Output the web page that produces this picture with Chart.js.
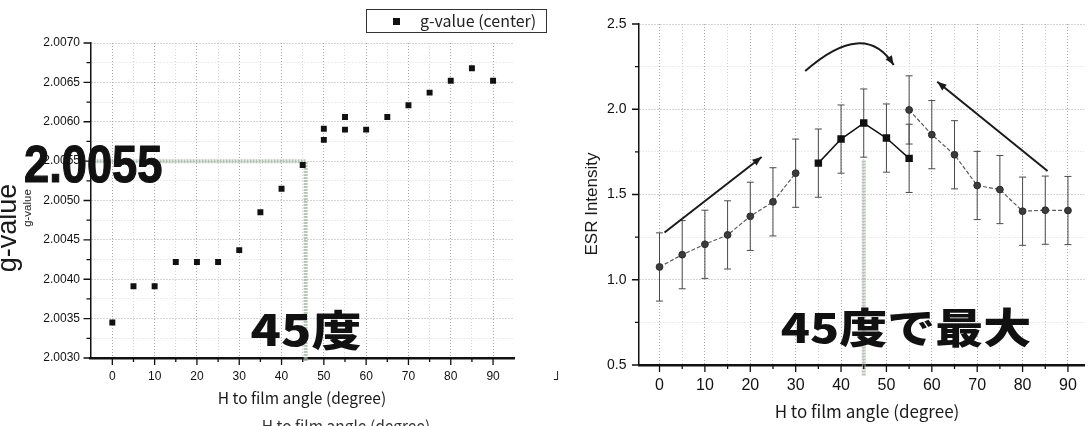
<!DOCTYPE html>
<html lang="ja">
<head>
<meta charset="utf-8">
<title>g-value / ESR Intensity</title>
<script src="https://cdn.jsdelivr.net/npm/chart.js@4.4.1/dist/chart.umd.min.js"></script>
<style>
  body { margin: 0; background: #fff; }
  #page { position: relative; width: 1090px; height: 426px; overflow: hidden; }
  canvas { position: absolute; top: 0; }
  #ChartG { left: 0; }
  #ChartE { left: 545px; }
  .lbl { position: absolute; white-space: nowrap; color: #1a1a1a; line-height: 1; transform: translate(-50%, -50%); }
  .rot { transform: translate(-50%, -50%) rotate(-90deg); }
  .jp { font-family: "Noto Sans CJK JP", sans-serif; }
  .big { font-weight: 900; color: #111; }
  #legendG { position: absolute; left: 366px; top: 9px; width: 181px; height: 24px; box-sizing: border-box;
             border: 1.5px solid #333; background: #fff; }
  #legendG i { position: absolute; left: 26px; top: 7.5px; width: 7px; height: 7px; background: #111; }
  #legendG span { position: absolute; left: 53px; top: -2px; font: 16px "Noto Sans CJK JP", sans-serif; color: #222; }
</style>
</head>
<body>
<div id="page">
  <canvas id="ChartG" width="545" height="426"></canvas>
  <canvas id="ChartE" width="545" height="426"></canvas>

  <div id="legendG"><i></i><span>g-value (center)</span></div>

  <div class="lbl rot" style="left:7px;top:228px;font-size:27px;font-family:'Liberation Sans',Arial">g-value</div>
  <div class="lbl rot" style="left:28px;top:208px;font-size:11.5px;font-family:'Liberation Sans',Arial">g-value</div>
  <div class="lbl jp" style="left:302px;top:398px;font-size:15.5px">H to film angle (degree)</div>
  <div class="lbl jp" style="left:346px;top:426px;font-size:15.5px;color:#333">H to film angle (degree)</div>

  <div class="lbl rot" style="left:591px;top:204px;font-size:17px;font-family:'Liberation Sans',Arial">ESR Intensity</div>
  <div class="lbl jp" style="left:867px;top:410px;font-size:17px">H to film angle (degree)</div>
  <div class="lbl jp" style="left:560px;top:372px;font-size:13px">」</div>

  <div style="position:absolute;left:24px;top:138px;font:bold 52px/52px 'Liberation Sans',Arial;color:#111;-webkit-text-stroke:1.2px #111;transform:scaleX(0.87);transform-origin:left top">2.0055</div>
  <div class="lbl jp big" style="left:306px;top:327px;font-size:50px;transform:translate(-50%,-50%) scaleY(0.85)">45度</div>
  <div class="lbl jp big" style="left:906px;top:325px;font-size:48px;transform:translate(-50%,-50%) scaleY(0.85)">45度で最大</div>
</div>

<script>
// ---- g-value chart (left) ----
const gAngles = [0, 5, 10, 15, 20, 25, 30, 35, 40, 45, 50, 50, 55, 55, 60, 65, 70, 75, 80, 85, 90];
const gValues = [2.00345, 2.00391, 2.00391, 2.00422, 2.00422, 2.00422, 2.00437, 2.00485, 2.00515, 2.00545,
                 2.00591, 2.00577, 2.00606, 2.00590, 2.00590, 2.00606, 2.00621, 2.00637, 2.00652, 2.00668, 2.00652];
const gMajorTicks = [2.0030, 2.0035, 2.0040, 2.0045, 2.0050, 2.0055, 2.0060, 2.0065, 2.0070];

const angleMajorTicks = [0, 10, 20, 30, 40, 50, 60, 70, 80, 90, 100];

// ---- ESR intensity chart (right) ----
const riseAngles = [0, 5, 10, 15, 20, 25, 30];
const riseIntensity = [1.075, 1.147, 1.208, 1.263, 1.372, 1.457, 1.625];
const riseError = [0.2, 0.2, 0.2, 0.2, 0.2, 0.2, 0.2];

const peakAngles = [35, 40, 45, 50, 55];
const peakIntensity = [1.684, 1.825, 1.919, 1.831, 1.712];
const peakError = [0.2, 0.2, 0.2, 0.2, 0.2];

const fallAngles = [55, 60, 65, 70, 75, 80, 85, 90];
const fallIntensity = [1.996, 1.851, 1.733, 1.553, 1.529, 1.402, 1.408, 1.406];
const fallError = [0.2, 0.2, 0.2, 0.2, 0.2, 0.2, 0.2, 0.2];

const esrMajorTicks = [0.5, 1.0, 1.5, 2.0, 2.5];

// guide lines and arrows, in data units
const gGuide = { angle: 45.7, value: 2.0055 };
const esrGuide = { angle: 45, from: 1.70 };
const esrArrows = [
  { from: [1.1, 1.277], to: [22.5, 1.72] },
  { from: [85.5, 1.638], to: [61.2, 2.161] }
];
const esrCurve = { from: [32.1, 2.224], mid: [43.5, 2.386], to: [51.6, 2.259] };


function withMidpoints(list) {
  let out = [];
  list.forEach((v, i) => {
    out.push(v);
    if (i < list.length - 1) out.push((v + list[i + 1]) / 2);
  });
  return out;
}

function isIn(list, v) {
  return list.some(t => Math.abs(t - v) < 1e-9);
}

function pairs(xs, ys) {
  return xs.map((x, i) => ({ x: x, y: ys[i] }));
}

function tickMarks(xMajor, yMajor) {
  return {
    id: 'tickMarks',
    afterDraw(chart) {
      const { ctx, chartArea, scales: { x, y } } = chart;
      ctx.save();
      ctx.strokeStyle = '#111';
      ctx.lineWidth = 1.3;
      ctx.beginPath();
      x.ticks.forEach(t => {
        const px = x.getPixelForValue(t.value);
        const len = isIn(xMajor, t.value) ? 7 : 4;
        ctx.moveTo(px, chartArea.bottom);
        ctx.lineTo(px, chartArea.bottom + len);
      });
      y.ticks.forEach(t => {
        const py = y.getPixelForValue(t.value);
        const len = isIn(yMajor, t.value) ? 7 : 4;
        ctx.moveTo(chartArea.left, py);
        ctx.lineTo(chartArea.left - len, py);
      });
      ctx.stroke();
      ctx.restore();
    }
  };
}

function guideStroke(ctx) {
  ctx.strokeStyle = 'rgba(160, 178, 160, 0.75)';
  ctx.lineWidth = 4;
  ctx.setLineDash([2, 1]);
}

function arrowHead(ctx, x1, y1, x2, y2, size) {
  const a = Math.atan2(y2 - y1, x2 - x1);
  ctx.beginPath();
  ctx.moveTo(x2, y2);
  ctx.lineTo(x2 - size * Math.cos(a - 0.38), y2 - size * Math.sin(a - 0.38));
  ctx.lineTo(x2 - size * Math.cos(a + 0.38), y2 - size * Math.sin(a + 0.38));
  ctx.closePath();
  ctx.fill();
}

const guideG = {
  id: 'guideG',
  beforeDatasetsDraw(chart) {
    const { ctx, chartArea, scales: { x, y } } = chart;
    const gx = x.getPixelForValue(gGuide.angle);
    const gy = y.getPixelForValue(gGuide.value);
    ctx.save();
    guideStroke(ctx);
    ctx.beginPath();
    ctx.moveTo(chartArea.left, gy);
    ctx.lineTo(gx, gy);
    ctx.lineTo(gx, chartArea.bottom + 3);
    ctx.stroke();
    ctx.restore();
  }
};

const errorBars = {
  id: 'errorBars',
  beforeDatasetsDraw(chart) {
    const { ctx, scales: { x, y } } = chart;
    ctx.save();
    ctx.strokeStyle = '#4a4a4a';
    ctx.lineWidth = 1;
    chart.data.datasets.forEach(ds => {
      ds.data.forEach((p, i) => {
        const px = x.getPixelForValue(p.x);
        const top = y.getPixelForValue(p.y + ds.errors[i]);
        const bot = y.getPixelForValue(p.y - ds.errors[i]);
        ctx.beginPath();
        ctx.moveTo(px, top); ctx.lineTo(px, bot);
        ctx.moveTo(px - 3.5, top); ctx.lineTo(px + 3.5, top);
        ctx.moveTo(px - 3.5, bot); ctx.lineTo(px + 3.5, bot);
        ctx.stroke();
      });
    });
    ctx.restore();
  }
};

const guideE = {
  id: 'guideE',
  beforeDatasetsDraw(chart) {
    const { ctx, chartArea, scales: { x, y } } = chart;
    const gx = x.getPixelForValue(esrGuide.angle);
    ctx.save();
    guideStroke(ctx);
    ctx.beginPath();
    ctx.moveTo(gx, y.getPixelForValue(esrGuide.from));
    ctx.lineTo(gx, chartArea.bottom + 11);
    ctx.stroke();
    ctx.restore();
  },
  afterDatasetsDraw(chart) {
    const { ctx, scales: { x, y } } = chart;
    const P = pt => [x.getPixelForValue(pt[0]), y.getPixelForValue(pt[1])];
    ctx.save();
    ctx.strokeStyle = '#1a1a1a';
    ctx.fillStyle = '#1a1a1a';
    ctx.lineWidth = 2;
    esrArrows.forEach(a => {
      const [x1, y1] = P(a.from);
      const [x2, y2] = P(a.to);
      ctx.beginPath();
      ctx.moveTo(x1, y1);
      ctx.lineTo(x2, y2);
      ctx.stroke();
      arrowHead(ctx, x1, y1, x2, y2, 10);
    });
    const [sx, sy] = P(esrCurve.from);
    const [mx, my] = P(esrCurve.mid);
    const [ex, ey] = P(esrCurve.to);
    const cx = 2 * mx - (sx + ex) / 2;
    const cy = 2 * my - (sy + ey) / 2;
    ctx.beginPath();
    ctx.moveTo(sx, sy);
    ctx.quadraticCurveTo(cx, cy, ex, ey);
    ctx.stroke();
    arrowHead(ctx, cx, cy, ex, ey, 10);
    ctx.restore();
  }
};

Chart.defaults.font.family = '"Liberation Sans", Arial, sans-serif';
Chart.defaults.color = '#111';

const gAxisTicks = withMidpoints(gMajorTicks);
const angleAxisTicks = withMidpoints(angleMajorTicks);

const chartG = new Chart(document.getElementById('ChartG'), {
  type: 'scatter',
  data: {
    datasets: [{
      label: 'g-value (center)',
      data: pairs(gAngles, gValues),
      pointStyle: 'rect',
      pointRadius: 4.2,
      backgroundColor: '#111',
      borderColor: '#111',
      borderWidth: 0
    }]
  },
  options: {
    responsive: false,
    animation: false,
    layout: { padding: { top: 43, right: 31, left: 0, bottom: 0 } },
    plugins: { legend: { display: false }, tooltip: { enabled: false } },
    scales: {
      x: {
        type: 'linear', min: -5.16, max: 94.95,
        afterBuildTicks: s => { s.ticks = angleAxisTicks.filter(v => v >= s.min && v <= s.max).map(v => ({ value: v })); },
        afterFit: s => { s.height = 68; },
        ticks: { padding: 11, autoSkip: false, maxRotation: 0, font: { size: 12 },
                 callback: v => isIn(angleMajorTicks, v) ? String(v) : '' },
        grid: { drawTicks: false, color: c => c.tick && isIn(angleMajorTicks, c.tick.value) ? '#a8a8a8' : '#d8d8d8' },
        border: { color: '#111', width: 2.5, dash: [1, 2] }
      },
      y: {
        min: 2.0030, max: 2.0070,
        afterBuildTicks: s => { s.ticks = gAxisTicks.map(v => ({ value: v })); },
        afterFit: s => { s.width = 90.5; },
        ticks: { padding: 10.5, autoSkip: false, font: { size: 12 },
                 callback: v => isIn(gMajorTicks, v) ? v.toFixed(4) : '' },
        grid: { drawTicks: false, color: c => c.tick && isIn(gMajorTicks, c.tick.value) ? '#a8a8a8' : '#d8d8d8' },
        border: { color: '#111', width: 1.5, dash: [1, 2] }
      }
    }
  },
  plugins: [guideG, tickMarks(angleMajorTicks, gMajorTicks)]
});

const esrAxisTicks = withMidpoints(esrMajorTicks);

const circleStyle = {
  pointStyle: 'circle', pointRadius: 3.4,
  pointBackgroundColor: '#3c3c3c', pointBorderColor: '#2a2a2a', pointBorderWidth: 1,
  borderColor: '#5a5a5a', borderWidth: 1.2, borderDash: [4, 2], showLine: true
};

const chartE = new Chart(document.getElementById('ChartE'), {
  type: 'scatter',
  data: {
    datasets: [
      Object.assign({ label: 'rise', data: pairs(riseAngles, riseIntensity), errors: riseError }, circleStyle),
      Object.assign({ label: 'fall', data: pairs(fallAngles, fallIntensity), errors: fallError }, circleStyle),
      {
        label: 'peak', data: pairs(peakAngles, peakIntensity), errors: peakError,
        pointStyle: 'rect', pointRadius: 4.2, pointBackgroundColor: '#111', pointBorderColor: '#111',
        borderColor: '#111', borderWidth: 1.5, showLine: true
      }
    ]
  },
  options: {
    responsive: false,
    animation: false,
    layout: { padding: { top: 24, right: 0, left: 0, bottom: 0 } },
    plugins: { legend: { display: false }, tooltip: { enabled: false } },
    scales: {
      x: {
        type: 'linear', min: -4.52, max: 93.6,
        afterBuildTicks: s => { s.ticks = angleAxisTicks.filter(v => v >= s.min && v <= s.max).map(v => ({ value: v })); },
        afterFit: s => { s.height = 61; },
        ticks: { padding: 11, autoSkip: false, maxRotation: 0, font: { size: 16 },
                 callback: v => isIn(angleMajorTicks, v) ? String(v) : '' },
        grid: { drawTicks: false, color: c => c.tick && isIn(angleMajorTicks, c.tick.value) ? '#a8a8a8' : '#d0d0d0' },
        border: { color: '#111', width: 2.5, dash: [1, 2] }
      },
      y: {
        min: 0.5, max: 2.5,
        afterBuildTicks: s => { s.ticks = esrAxisTicks.map(v => ({ value: v })); },
        afterFit: s => { s.width = 94; },
        ticks: { padding: 12.5, autoSkip: false, font: { size: 14 },
                 callback: v => isIn(esrMajorTicks, v) ? v.toFixed(1) : '' },
        grid: { drawTicks: false, color: c => c.tick && isIn(esrMajorTicks, c.tick.value) ? '#a8a8a8' : '#d8d8d8' },
        border: { color: '#111', width: 1.5, dash: [1, 2] }
      }
    }
  },
  plugins: [errorBars, guideE, tickMarks(angleMajorTicks, esrMajorTicks)]
});
</script>
</body>
</html>
